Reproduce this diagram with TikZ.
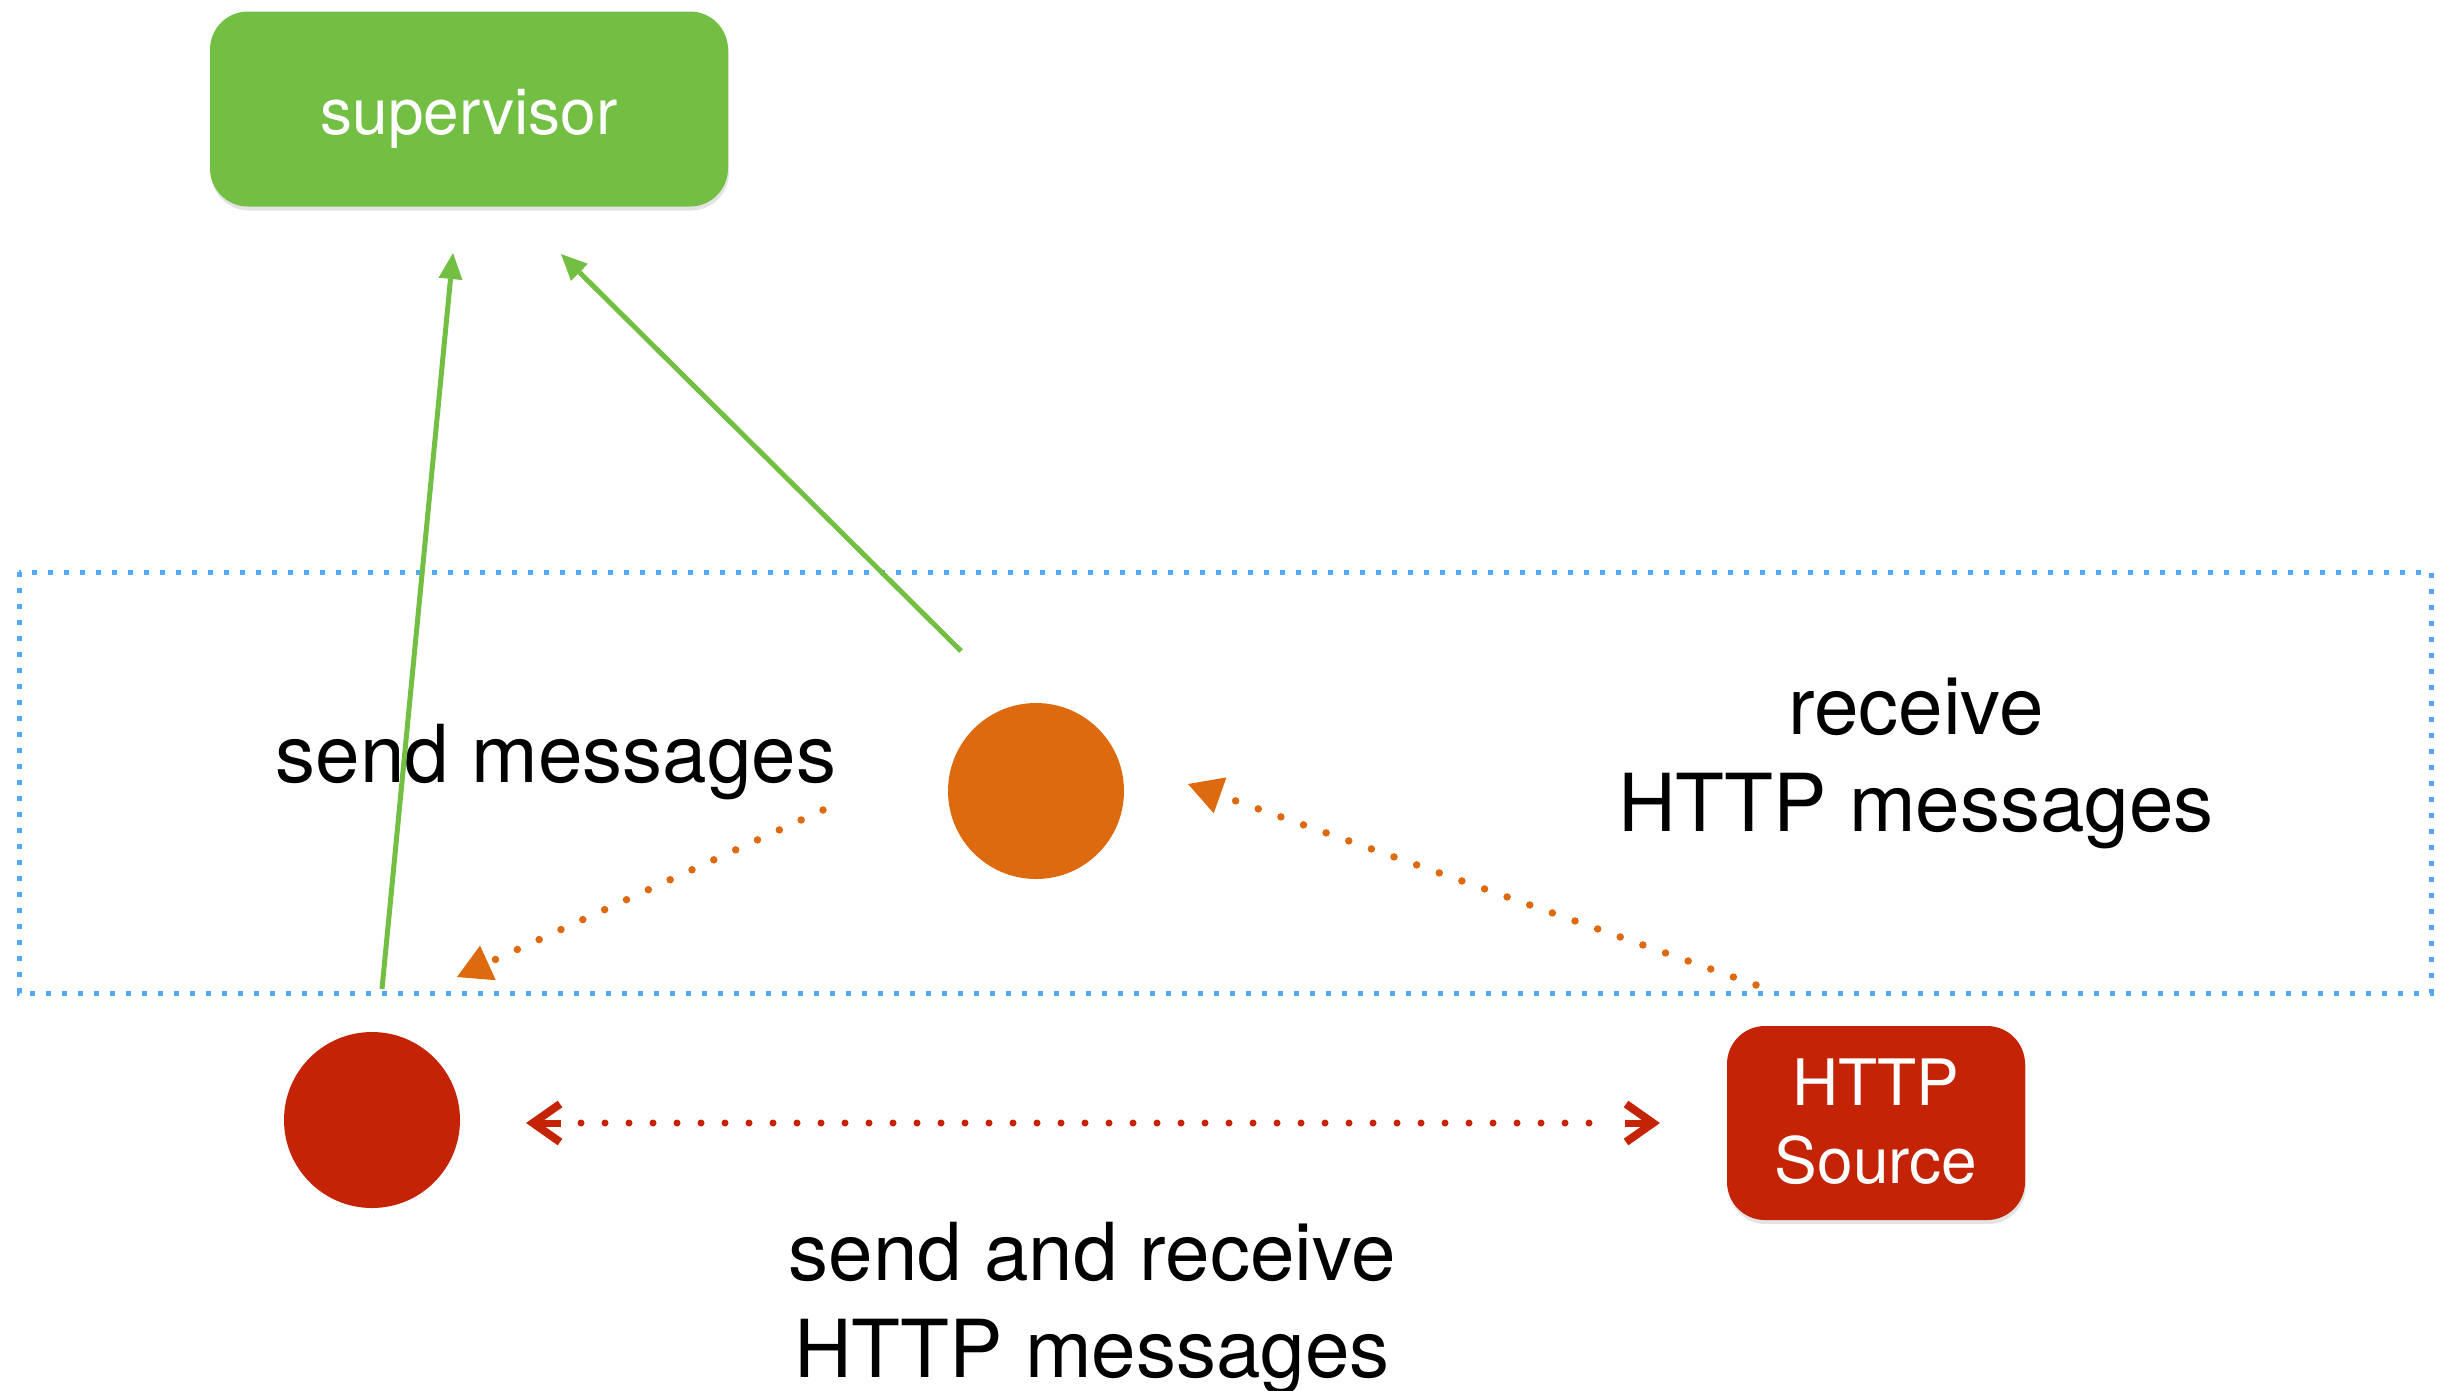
\documentclass[tikz,border=0pt]{standalone}
\usepackage{fontspec}
\setmainfont{TeX Gyre Heros}
\usetikzlibrary{arrows.meta,shadows}
\definecolor{sgreen}{RGB}{114,191,68}
\definecolor{sorange}{RGB}{222,106,16}
\definecolor{sred}{RGB}{197,35,6}
\definecolor{sblue}{RGB}{85,167,247}
\begin{document}
\begin{tikzpicture}[x=1pt,y=-1pt,
  box/.style={rounded corners=38pt, inner sep=0pt, draw=none,
    drop shadow={shadow xshift=1pt, shadow yshift=-4pt, opacity=0.22}},
  boxtext/.style={text=white, align=center, inner sep=0pt,
    font=\fontsize{64pt}{78pt}\selectfont},
  bigtext/.style={text=black, align=center, inner sep=0pt,
    font=\fontsize{80pt}{97pt}\selectfont},
  dot/.style={circle, inner sep=0pt, minimum size=176pt, draw=none},
  greenarrow/.style={draw=sgreen, line width=5pt, -{Triangle[length=26pt,width=24pt,line width=0pt]}},
  orangedots/.style={draw=sorange, line width=7.5pt, line cap=round,
    dash pattern=on 0pt off 24pt, -{Triangle[length=34pt,width=38pt,line width=0pt]}},
  reddots/.style={draw=sred, line width=7pt, line cap=round,
    dash pattern=on 0pt off 24pt},
  chevron/.style={draw=sred, line width=8pt, line cap=butt, line join=miter},
  stem/.style={draw=sred, line width=7pt},
  regionbox/.style={draw=sblue, line width=5pt, dash pattern=on 5pt off 11pt}
]
\useasboundingbox (0,0) rectangle (2443,1390);

% dotted region
\draw[regionbox] (19,572) rectangle (2431,993);

% boxes
\node[box, fill=sgreen, minimum width=518pt, minimum height=195pt] (sup) at (469,109) {};
\node[boxtext] (suplabel) at (469,119) {supervisor};

\node[box, fill=sred, minimum width=298pt, minimum height=194pt] (http) at (1876,1123) {};
\node[boxtext] (httplabel) at (1876,1122) {HTTP\\Source};

% circles
\node[dot, fill=sorange] (oc) at (1036,791) {};
\node[dot, fill=sred] (rc) at (372,1120) {};

% texts
\node[bigtext, anchor=base] (sendmsg) at (556,782) {send messages};
\node[bigtext] (recv) at (1916,763) {receive\\HTTP messages};
\node[bigtext] (sendrecv) at (1092,1309) {send and receive\\HTTP messages};

% connector end points
\coordinate (g1s) at (382,989);
\coordinate (g1e) at (453,253);
\coordinate (g2s) at (961,651);
\coordinate (g2e) at (561,254);
\coordinate (o1s) at (823,810);
\coordinate (o1e) at (457,977);
\coordinate (o2s) at (1756,985);
\coordinate (o2e) at (1188,784);
\coordinate (r1) at (533,1123);
\coordinate (r2) at (1653,1123);

% connectors
\draw[greenarrow] (g1s) -- (g1e);
\draw[greenarrow] (g2s) -- (g2e);
\draw[orangedots] (o1s) -- (o1e);
\draw[orangedots] (o2s) -- (o2e);
\draw[reddots] ([xshift=48pt]r1) -- ([xshift=-48pt]r2);
\draw[stem] (r1) -- ++(28,0);
\draw[stem] (r2) -- ++(-28,0);
\draw[chevron] ([shift={(27,-19)}]r1) -- (r1) -- ([shift={(27,19)}]r1);
\draw[chevron] ([shift={(-27,-19)}]r2) -- (r2) -- ([shift={(-27,19)}]r2);
\end{tikzpicture}
\end{document}
